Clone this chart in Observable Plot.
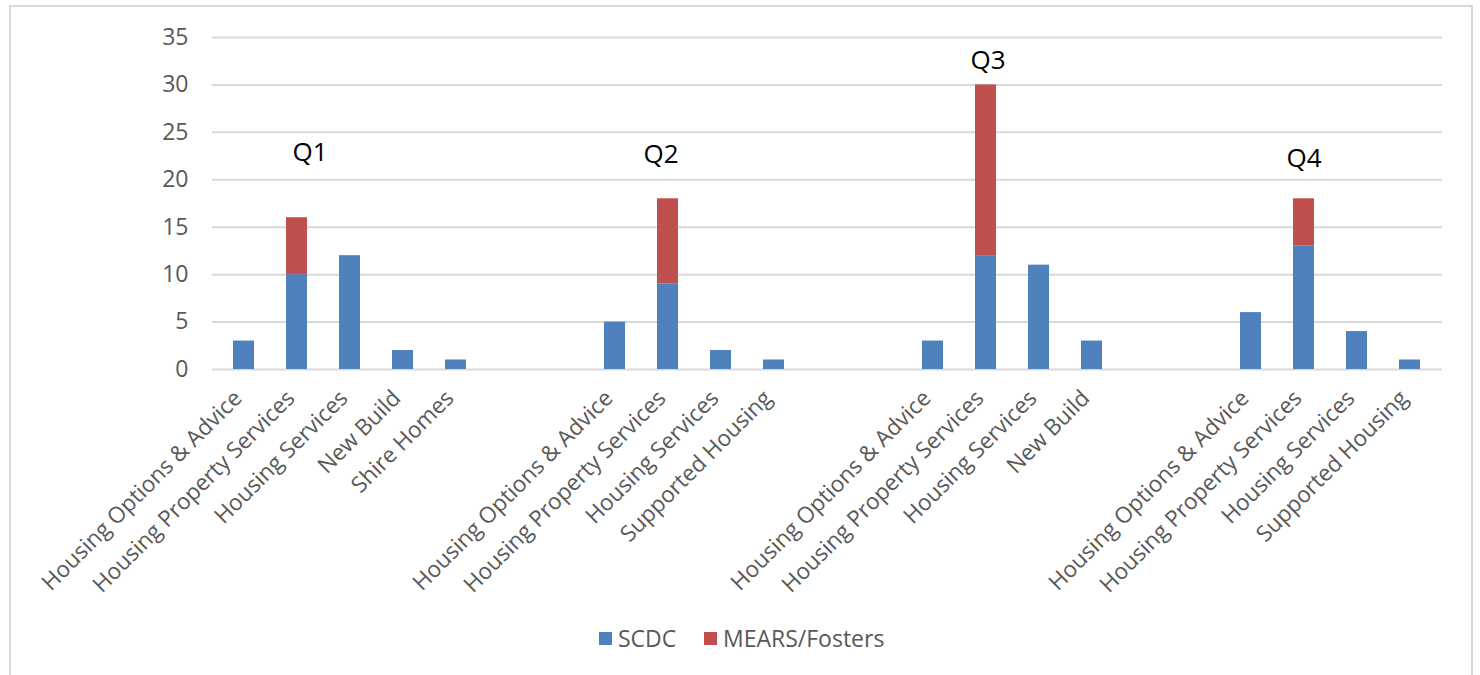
<!DOCTYPE html>
<html>
<head>
<meta charset="utf-8">
<script src="https://cdn.jsdelivr.net/npm/d3@7"></script>
<script src="https://cdn.jsdelivr.net/npm/@observablehq/plot@0.6"></script>
<style>
  html, body { margin: 0; padding: 0; background: #fff; }
  #wrap { position: relative; width: 1480px; height: 675px; overflow: hidden; font-family: "Open Sans", sans-serif; }
  #frame { position: absolute; left: 9px; top: 5px; width: 1464px; height: 700px; border: 2px solid #d9d9d9; box-sizing: border-box; }
  #chart { position: absolute; left: 0; top: 0; }
  #legend { position: absolute; left: 0; top: 622px; width: 1480px; display: flex; justify-content: flex-start; align-items: center; font-size: 23px; color: #595959; }
  .item { display: flex; align-items: center; position: absolute; top: 0; }
  .sw { width: 13px; height: 13px; margin-right: 6px; }
</style>
</head>
<body>
<div id="wrap">
  <div id="frame"></div>
  <div id="chart"></div>
  <div id="legend"></div>
</div>
<script>
// Categories (23 slots; empty strings are gaps between quarters)
const categories = [
  "Housing Options & Advice", "Housing Property Services", "Housing Services", "New Build", "Shire Homes", "", "",
  "Housing Options & Advice", "Housing Property Services", "Housing Services", "Supported Housing", "", "",
  "Housing Options & Advice", "Housing Property Services", "Housing Services", "New Build", "", "",
  "Housing Options & Advice", "Housing Property Services", "Housing Services", "Supported Housing"
];
const scdc  = [3, 10, 12, 2, 1, null, null, 5, 9, 2, 1, null, null, 3, 12, 11, 3, null, null, 6, 13, 4, 1];
const mears = [0, 6, 0, 0, 0, null, null, 0, 9, 0, 0, null, null, 0, 18, 0, 0, null, null, 0, 5, 0, 0];
const seriesNames = ["SCDC", "MEARS/Fosters"];
const seriesColors = ["#4f81bd", "#c0504d"];
const yTicks = [0, 5, 10, 15, 20, 25, 30, 35];
const quarterLabels = ["Q1", "Q2", "Q3", "Q4"];
const quarterSlot = [1, 8, 14, 20];
const quarterLevel = [22.9, 22.6, 32.6, 22.2];

const slots = d3.range(categories.length);
const table = [];
slots.forEach(i => {
  if (scdc[i] != null) table.push({slot: i, series: seriesNames[0], value: scdc[i]});
  if (mears[i] != null) table.push({slot: i, series: seriesNames[1], value: mears[i]});
});
const qData = quarterLabels.map((q, k) => ({label: q, slot: quarterSlot[k], level: quarterLevel[k]}));
const qDx = [13, -7, 2, 0];

const chart = Plot.plot({
  width: 1480,
  height: 600,
  marginLeft: 212,
  marginRight: 38,
  marginTop: 37,
  marginBottom: 231,
  style: {fontFamily: "Open Sans", background: "transparent", overflow: "visible"},
  x: {type: "band", domain: slots, paddingInner: 0.6, paddingOuter: 0.3},
  y: {domain: [0, 35]},
  color: {domain: seriesNames, range: seriesColors},
  marks: [
    Plot.ruleY(yTicks, {stroke: "#d9d9d9", strokeWidth: 2}),
    Plot.barY(table, Plot.stackY({x: "slot", y: "value", fill: "series", order: seriesNames})),
    Plot.axisY({ticks: yTicks, tickSize: 0, tickPadding: 24, fontSize: 23, color: "#595959", label: null}),
    Plot.axisX({tickSize: 0, tickPadding: 25, dx: -6, tickRotate: -45, fontSize: 22.5, color: "#595959", label: null,
      tickFormat: i => categories[i]}),
    ...qData.map((d, k) => Plot.text([d], {x: "slot", y: "level", text: "label", dx: qDx[k], fontSize: 26, fill: "#000"}))
  ]
});
document.getElementById("chart").appendChild(chart);

const legend = document.getElementById("legend");
const legendX = [599, 704];
seriesNames.forEach((s, k) => {
  const it = document.createElement("div");
  it.className = "item";
  it.style.left = legendX[k] + "px";
  it.innerHTML = `<span class="sw" style="background:${seriesColors[k]}"></span><span>${s}</span>`;
  legend.appendChild(it);
});
</script>
</body>
</html>
